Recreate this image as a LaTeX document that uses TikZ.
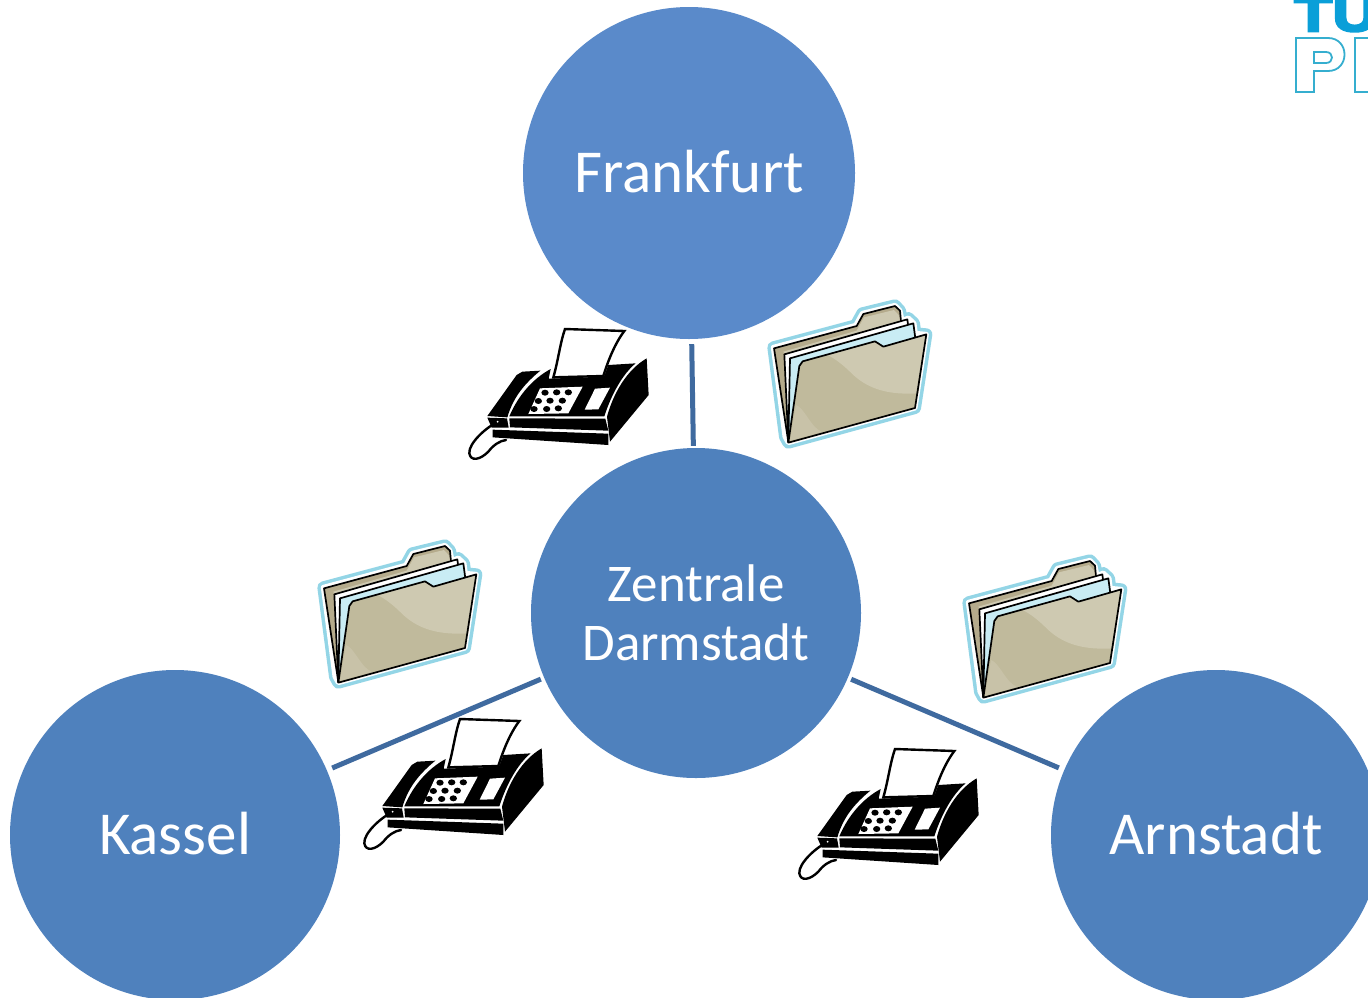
\documentclass[tikz,border=0pt]{standalone}
\usepackage{fontspec}
\setmainfont{Carlito}
\newfontfamily\logofont[FakeBold=5,FakeStretch=1.25]{Liberation Sans Bold}
\definecolor{cityblue}{HTML}{4F81BD}
\definecolor{topblue}{HTML}{5A8ACA}
\definecolor{linkblue}{HTML}{3F6A9F}
\definecolor{logoblue}{HTML}{0A9FD8}
\definecolor{logoline}{HTML}{35AECF}
\definecolor{halo}{HTML}{93D5E6}
\definecolor{tanback}{HTML}{B5AB8C}
\definecolor{tandark}{HTML}{C0BA9C}
\definecolor{tanlight}{HTML}{CEC9B1}
\definecolor{sheetblue}{HTML}{C9ECF4}
\tikzset{
  city/.style={circle,minimum size=330pt,inner sep=0pt,text=white,align=center,fill=cityblue},
  bigcity/.style={city,font=\fontsize{61}{66}\selectfont,text height=40pt,text depth=2pt},
  link/.style={draw=linkblue,line width=5pt},
  faxicon/.pic={
    \begin{scope}[scale=1/3]
      % paper
      \draw[black,line width=2.4pt,fill=white,line join=miter] (280,172) .. controls (295,120) and (300,70) .. (315,27) -- (493,33) .. controls (465,70) and (445,120) .. (430,168) -- cycle;
      % handset
      \fill[black] (82,288) -- (170,165) -- (187,155) -- (241,152) .. controls (195,190) and (160,230) .. (142,292) -- cycle;
      % top deck
      \fill[black] (148,289) .. controls (175,225) and (220,175) .. (272,147) -- (266,176) -- (432,170) -- (445,135) -- (527,130) .. controls (490,160) and (455,220) .. (433,289) -- cycle;
      % right wing
      \fill[black] (560,115) -- (566,225) -- (450,365) -- (441,290) .. controls (460,220) and (500,150) .. (560,115) -- cycle;
      % front strips
      \fill[black] (148,295) -- (436,296) -- (445,332) -- (150,322) -- cycle;
      \fill[black] (98,329) -- (445,341) -- (445,375) -- (98,352) -- cycle;
      \fill[black] (82,293) -- (141,295) -- (146,323) -- (95,323) -- cycle;
      % keypad
      \fill[white] (240,205) -- (368,200) -- (325,280) -- (205,282) -- cycle;
      \foreach \px/\py in {255/218,290/217,325/217,235/243,270/242,307/242,222/267,260/267,295/265}
        \fill[black] (\px,\py) ellipse (11 and 9);
      % display
      \fill[white] (405,206) -- (450,203) -- (415,268) -- (374,269) -- cycle;
      % cord
      \draw[black,line width=2.4pt,line cap=round] (115,305) .. controls (80,320) and (25,370) .. (28,400) .. controls (32,425) and (60,420) .. (85,395) .. controls (100,375) and (120,362) .. (138,360);
      \fill[white] (113,305) circle (3);
    \end{scope}
  },
  foldericon/.pic={
    \begin{scope}[scale=1/3]
      % halo
      \draw[halo,line width=12pt,line join=round,fill=halo] (40,172) -- (287,106) -- (307,70) -- (405,46) -- (420,62) -- (426,92) -- (445,84) -- (462,100) -- (466,130) -- (499,133) -- (465,354) -- (85,458) -- (75,440) -- cycle;
      \draw[white,line width=5pt,line join=round,fill=white] (40,172) -- (287,106) -- (307,70) -- (405,46) -- (420,62) -- (426,92) -- (445,84) -- (462,100) -- (466,130) -- (499,133) -- (465,354) -- (85,458) -- (75,440) -- cycle;
      % back
      \draw[black,line width=1.7pt,fill=tanback,line join=round] (42,175) -- (290,108) -- (310,72) -- (405,48) -- (420,62) -- (428,150) -- (85,456) -- cycle;
      \fill[tanlight] (70,185) -- (290,122) -- (312,82) -- (402,60) -- (416,75) -- (420,92) -- (75,195) -- cycle;
      % sheets
      \draw[black,line width=1.7pt,fill=white,line join=round] (73,193) -- (442,88) -- (448,135) -- (85,456) -- cycle;
      \draw[black,line width=1.7pt,fill=sheetblue,line join=round] (90,205) -- (460,100) -- (466,145) -- (85,456) -- cycle;
      % front
      \fill[tandark] (128,214) -- (345,154) -- (370,170) -- (499,133) -- (465,354) -- (85,458) -- (118,228) -- cycle;
      \fill[tanlight] (200,194) -- (345,154) -- (370,170) -- (499,133) -- (475,310) .. controls (390,315) and (330,300) .. (280,255) .. controls (250,225) and (225,205) .. (200,194) -- cycle;
      \fill[tanlight!55!tandark] (108,345) .. controls (135,355) and (150,410) .. (186,426) -- (90,452) -- cycle;
      \draw[black,line width=1.7pt,line join=round] (128,214) -- (345,154) -- (370,170) -- (499,133) -- (465,354) -- (85,458) -- (118,228) -- cycle;
    \end{scope}
  }
}
\begin{document}
\begin{tikzpicture}[x=1pt,y=-1pt]
\useasboundingbox (0,0) rectangle (1368,997);
\clip (0,0) rectangle (1368,997);
\fill[white] (0,0) rectangle (1368,997);

\node[bigcity,fill=topblue,minimum size=332pt] (frank) at (689,173) {Frankfurt};
\node[city,font=\fontsize{53}{59}\selectfont] (zent) at (696,613) {Zentrale\\Darmstadt};
\node[bigcity] (kassel) at (175,835) {Kassel};
\node[bigcity] (arn) at (1216,835) {Arnstadt};

\draw[link,shorten <=5pt,shorten >=2pt] (frank) -- (zent);
\draw[link,shorten <=5.7pt,shorten >=3.5pt] (kassel) -- (zent);
\draw[link,shorten <=5.7pt,shorten >=3.5pt] (arn) -- (zent);

\pic at (460,320) {faxicon};
\pic at (355,710) {faxicon};
\pic at (790,740) {faxicon};
\pic at (760,290) {foldericon};
\pic at (310,530) {foldericon};
\pic at (955,545) {foldericon};

% logo
\node[anchor=base west,inner sep=0pt,text=logoblue,font=\logofont\fontsize{50}{50}\selectfont] (logotu) at (1294,31) {TU};
\draw[logoline,line width=1.8pt,even odd rule] (1296,38) -- (1328,38) .. controls (1350,38) and (1350,71) .. (1328,71) -- (1314,71) -- (1314,92) -- (1296,92) -- cycle
  (1314,52) -- (1326,52) .. controls (1334,52) and (1334,63) .. (1326,63) -- (1314,63) -- cycle;
\draw[logoline,line width=1.8pt] (1375,38) -- (1355,38) -- (1355,92) -- (1375,92);
\end{tikzpicture}
\end{document}
